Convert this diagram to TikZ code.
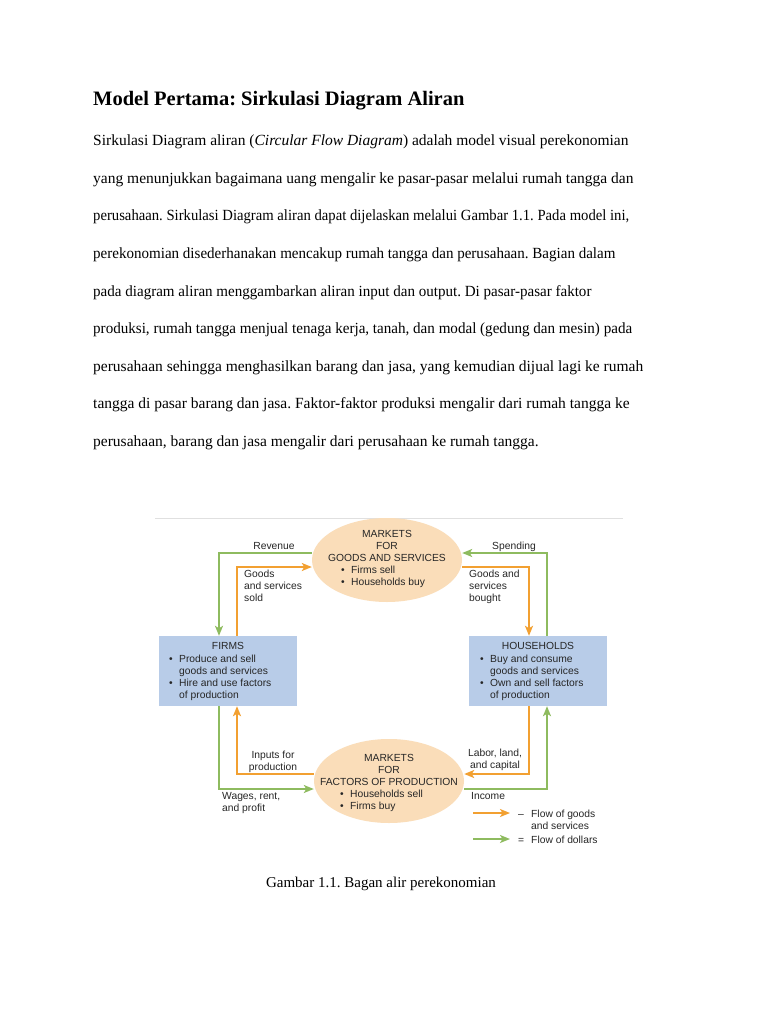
\documentclass[tikz,border=0pt]{standalone}
\usepackage{fontspec}
\setmainfont{Liberation Serif}
\newfontfamily\dsans{Liberation Sans}
\usetikzlibrary{arrows.meta,shapes.geometric}
\definecolor{orng}{HTML}{F2A031}
\definecolor{grn}{HTML}{8EBB5F}
\definecolor{peach}{HTML}{FADDB9}
\definecolor{boxblue}{HTML}{B8CCE8}
\definecolor{dtext}{HTML}{262626}
\newcommand{\bul}{\makebox[10pt][l]{\textbullet}}
\frenchspacing
\begin{document}
\begin{tikzpicture}[x=1pt,y=-1pt,
  body/.style={anchor=base west, inner sep=0, font=\fontsize{15.5}{18}\selectfont},
  dl/.style={inner sep=0, font=\dsans\fontsize{10.3}{12}\selectfont, text=dtext},
  market/.style={ellipse, fill=peach, minimum width=150pt, minimum height=84pt, inner sep=0},
  agent/.style={rectangle, fill=boxblue, minimum width=138pt, minimum height=70pt, inner sep=0},
  goodsflow/.style={draw=orng, line width=2pt, -{Stealth[length=10pt,width=8pt,inset=2.5pt]}},
  moneyflow/.style={draw=grn, line width=1.6pt, -{Stealth[length=10pt,width=8pt,inset=2.5pt]}}
]
\useasboundingbox[fill=white] (0,0) rectangle (768,1024);

% ---------- text ----------
\node[anchor=base west, inner sep=0, font=\bfseries\fontsize{20.5}{24}\selectfont] (title) at (93,106) {Model Pertama: Sirkulasi Diagram Aliran};
\node[body] (l1) at (93,146) {Sirkulasi Diagram aliran (\textit{Circular Flow Diagram}) adalah model visual perekonomian};
\node[body] (l2) at (93,183.5) {yang menunjukkan bagaimana uang mengalir ke pasar-pasar melalui rumah tangga dan};
\node[body] (l3) at (93,221) {\scalebox{0.947}[1]{perusahaan. Sirkulasi Diagram aliran dapat dijelaskan melalui Gambar 1.1. Pada model ini,}};
\node[body] (l4) at (93,258.5) {\scalebox{0.970}[1]{perekonomian disederhanakan mencakup rumah tangga dan perusahaan. Bagian dalam}};
\node[body] (l5) at (93,296) {\scalebox{0.971}[1]{pada diagram aliran menggambarkan aliran input dan output. Di pasar-pasar faktor}};
\node[body] (l6) at (93,333.5) {\scalebox{0.973}[1]{produksi, rumah tangga menjual tenaga kerja, tanah, dan modal (gedung dan mesin) pada}};
\node[body] (l7) at (93,371) {perusahaan sehingga menghasilkan barang dan jasa, yang kemudian dijual lagi ke rumah};
\node[body] (l8) at (93,408.5) {tangga di pasar barang dan jasa. Faktor-faktor produksi mengalir dari rumah tangga ke};
\node[body] (l9) at (93,446) {perusahaan, barang dan jasa mengalir dari perusahaan ke rumah tangga.};

% ---------- diagram ----------
\draw[draw=black!12, line width=1pt] (155,518) -- (623,518);

\node[market] (topE) at (387,560) {};
\node[market] (botE) at (389,781) {};
\node[agent] (firms) at (228,671) {};
\node[agent] (house) at (538,671) {};

% market texts (anchor base = baseline of last line)
\node[dl, anchor=base, align=center] (topT) at (387,561) {MARKETS\\FOR\\GOODS AND SERVICES};
\node[dl, anchor=base west, align=left] (topB) at (341,585) {\bul Firms sell\\\bul Households buy};
\node[dl, anchor=base, align=center] (botT) at (389,785) {MARKETS\\FOR\\FACTORS OF PRODUCTION};
\node[dl, anchor=base west, align=left] (botB) at (340,809) {\bul Households sell\\\bul Firms buy};

% box texts
\node[dl, anchor=base] (firmsT) at (228,649) {FIRMS};
\node[dl, anchor=base west, align=left] (firmsB) at (169,698) {\bul Produce and sell\\\hspace{10pt}goods and services\\\bul Hire and use factors\\\hspace{10pt}of production};
\node[dl, anchor=base] (houseT) at (538,649) {HOUSEHOLDS};
\node[dl, anchor=base west, align=left] (houseB) at (480,698) {\bul Buy and consume\\\hspace{10pt}goods and services\\\bul Own and sell factors\\\hspace{10pt}of production};

% flows
\draw[moneyflow] ([yshift=7pt]topE.west) -| ([xshift=-9pt]firms.north);
\draw[goodsflow] ([xshift=9pt]firms.north) |- ([yshift=-7pt]topE.west);
\draw[moneyflow] ([xshift=9pt]house.north) |- ([yshift=7pt]topE.east);
\draw[goodsflow] ([yshift=-7pt]topE.east) -| ([xshift=-9pt]house.north);
\draw[goodsflow] ([yshift=7pt]botE.west) -| ([xshift=9pt]firms.south);
\draw[moneyflow] ([xshift=-9pt]firms.south) |- ([yshift=-8pt]botE.west);
\draw[goodsflow] ([xshift=-9pt]house.south) |- ([yshift=7pt]botE.east);
\draw[moneyflow] ([yshift=-8pt]botE.east) -| ([xshift=9pt]house.south);

% flow labels
\node[dl, anchor=base] (rev) at (274,549) {Revenue};
\node[dl, anchor=base west, align=left] (gss) at (244,601) {Goods\\and services\\sold};
\node[dl, anchor=base] (spend) at (514,549) {Spending};
\node[dl, anchor=base west, align=left] (gsb) at (469,601) {Goods and\\services\\bought};
\node[dl, anchor=base, align=center] (inp) at (273,770) {Inputs for\\production};
\node[dl, anchor=base west, align=left] (wages) at (222,811) {Wages, rent,\\and profit};
\node[dl, anchor=base, align=center] (labor) at (495,768) {Labor, land,\\and capital};
\node[dl, anchor=base west] (income) at (471,799) {Income};

% legend
\coordinate (lg1a) at (473,813);
\coordinate (lg1b) at (510,813);
\coordinate (lg2a) at (473,839);
\coordinate (lg2b) at (510,839);
\draw[goodsflow, line width=1.6pt] (lg1a) -- (lg1b);
\draw[moneyflow] (lg2a) -- (lg2b);
\node[dl, anchor=base west, align=left] (leg1) at (518,829) {\makebox[13pt][l]{\textendash}Flow of goods\\\hspace{13pt}and services};
\node[dl, anchor=base west] (leg2) at (518,843) {\makebox[13pt][l]{=}Flow of dollars};

% caption
\node[anchor=base, inner sep=0, font=\fontsize{15}{18}\selectfont] (cap) at (381,887) {Gambar 1.1. Bagan alir perekonomian};
\end{tikzpicture}
\end{document}
